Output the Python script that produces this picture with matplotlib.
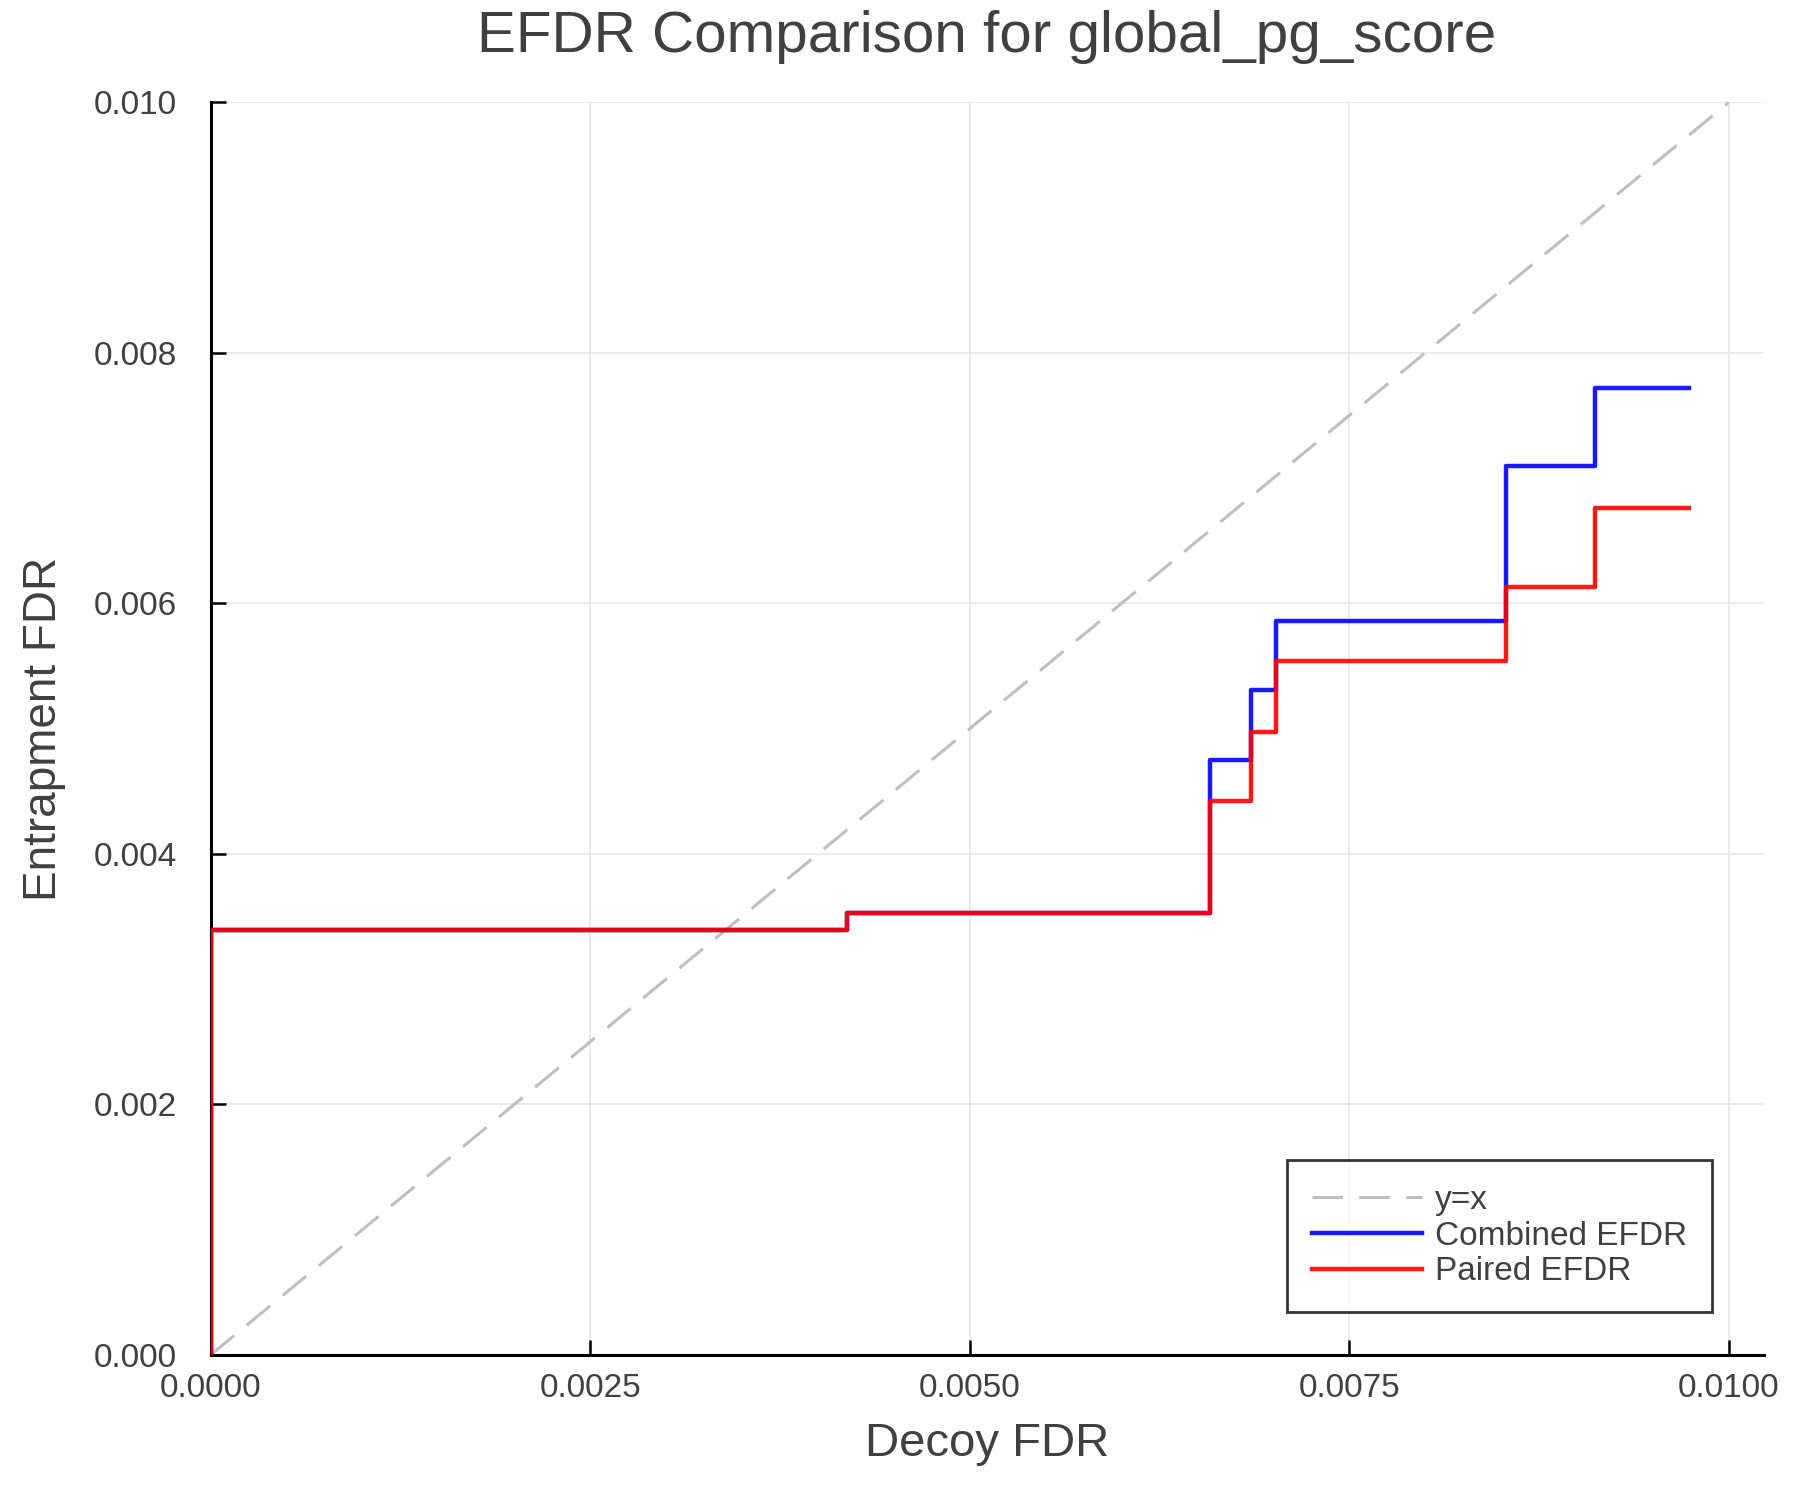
import matplotlib.pyplot as plt
from matplotlib.ticker import FormatStrFormatter

plt.rcParams['font.family'] = ['Liberation Sans', 'DejaVu Sans']

# values (step functions, where='post')
decoy_fdr = [0.0, 0.0, 0.00419, 0.00658, 0.00685, 0.00702, 0.00853, 0.00912, 0.00974]
combined_efdr = [0.0, 0.00339, 0.00353, 0.00475, 0.00531, 0.00586, 0.00710, 0.00772, 0.00772]
paired_efdr = [0.0, 0.00339, 0.00353, 0.00442, 0.00497, 0.00554, 0.00613, 0.00676, 0.00676]
diag = [0.0, 0.01]
x_ticks = [0.0, 0.0025, 0.005, 0.0075, 0.01]
y_ticks = [0.0, 0.002, 0.004, 0.006, 0.008, 0.010]

text_col = '#404040'

fig = plt.figure(figsize=(18, 15), dpi=100)
ax = fig.add_axes([0.117, 0.0967, 0.8628, 0.835])

ax.plot(diag, diag, color='#bfbfbf', lw=2.2, dashes=(10, 5.3), label='y=x', clip_on=False)
ax.step(decoy_fdr, combined_efdr, where='post', color=(0, 0, 1, 0.9), lw=3.2, label='Combined EFDR', zorder=3)
ax.step(decoy_fdr, paired_efdr, where='post', color=(1, 0, 0, 0.9), lw=3.2, label='Paired EFDR', zorder=3)

ax.set_xlim(0, 0.01023)
ax.set_ylim(0, 0.010)
ax.set_xticks(x_ticks)
ax.set_yticks(y_ticks)
ax.xaxis.set_major_formatter(FormatStrFormatter('%.4f'))
ax.yaxis.set_major_formatter(FormatStrFormatter('%.3f'))
ax.tick_params(direction='in', length=11, width=1.8, labelsize=24, colors='black',
               labelcolor=text_col)
ax.tick_params(axis='x', pad=13)
ax.tick_params(axis='y', pad=24)
ax.grid(True, color='#e6e6e6', lw=1.2)
ax.set_axisbelow(True)

for s in ['top', 'right']:
    ax.spines[s].set_visible(False)
for s in ['left', 'bottom']:
    ax.spines[s].set_linewidth(2.2)

ax.set_xlabel('Decoy FDR', fontsize=34, color=text_col, labelpad=13)
ax.set_ylabel('Entrapment FDR', fontsize=33, color=text_col, labelpad=20)
ax.set_title('EFDR Comparison for global_pg_score', fontsize=42, color=text_col, pad=36)

leg = ax.legend(loc='lower right', bbox_to_anchor=(0.9668, 0.034), borderaxespad=0,
                fontsize=24, frameon=True, fancybox=False, handlelength=3.3,
                labelspacing=0.14, borderpad=0.75, handletextpad=0.4)
leg.get_frame().set_edgecolor('black')
leg.get_frame().set_linewidth(2)
for t in leg.get_texts():
    t.set_color(text_col)

fig.savefig('out.png', dpi=100)
